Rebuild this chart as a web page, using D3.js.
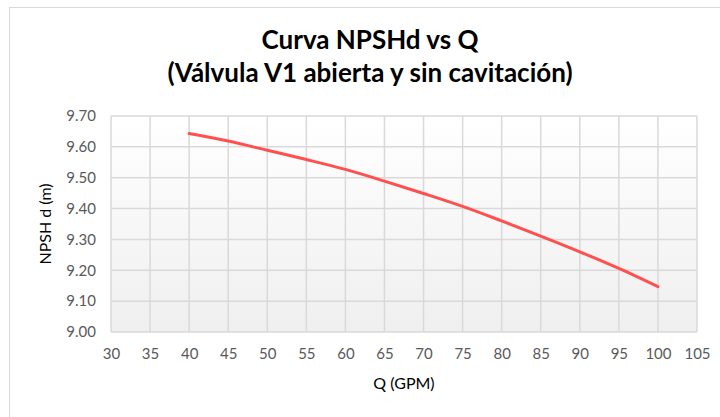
<!DOCTYPE html>
<html>
<head>
<meta charset="utf-8">
<script src="https://cdn.jsdelivr.net/npm/d3@7"></script>
<style>
  html, body { margin: 0; padding: 0; background: #fff; }
  svg { display: block; }
</style>
</head>
<body>
<svg id="chart" width="720" height="417"></svg>
<script>
// Flow rate (GPM) and available NPSH (m)
const flowQ = [40, 45, 50, 55, 60, 65, 70, 75, 80, 85, 90, 95, 100];
const npshd = [9.643, 9.619, 9.589, 9.559, 9.527, 9.489, 9.449, 9.407, 9.360, 9.311, 9.260, 9.206, 9.147];
const xTicks = [30, 35, 40, 45, 50, 55, 60, 65, 70, 75, 80, 85, 90, 95, 100, 105];
const yTicks = [9.0, 9.1, 9.2, 9.3, 9.4, 9.5, 9.6, 9.7];
const titleLines = ["Curva NPSHd vs Q", "(Válvula V1 abierta y sin cavitación)"];

const svg = d3.select("#chart");
const font = "Lato, 'Open Sans', sans-serif";

// chart frame
svg.append("rect")
  .attr("x", 9.5).attr("y", 7.5).attr("width", 730).attr("height", 420)
  .attr("fill", "#fff").attr("stroke", "#d9d9d9").attr("stroke-width", 1);

const plot = { left: 111, right: 697, top: 116, bottom: 332 };

const x = d3.scaleLinear().domain([30, 105]).range([plot.left, plot.right]);
const y = d3.scaleLinear().domain([9.0, 9.7]).range([plot.bottom, plot.top]);

// plot area background gradient
const defs = svg.append("defs");
const grad = defs.append("linearGradient").attr("id", "bg").attr("x1", 0).attr("y1", 0).attr("x2", 0).attr("y2", 1);
grad.append("stop").attr("offset", "0%").attr("stop-color", "#ffffff");
grad.append("stop").attr("offset", "100%").attr("stop-color", "#efefef");

svg.append("rect")
  .attr("x", plot.left).attr("y", plot.top)
  .attr("width", plot.right - plot.left).attr("height", plot.bottom - plot.top)
  .attr("fill", "url(#bg)");

// gridlines
const grid = svg.append("g").attr("stroke", "#d9d9d9").attr("stroke-width", 1.5);
grid.selectAll("line.v").data(xTicks).join("line")
  .attr("x1", d => x(d)).attr("x2", d => x(d))
  .attr("y1", plot.top).attr("y2", plot.bottom);
grid.selectAll("line.h").data(yTicks).join("line")
  .attr("x1", plot.left).attr("x2", plot.right)
  .attr("y1", d => y(d)).attr("y2", d => y(d));

// axes (labels only)
const xAxis = svg.append("g")
  .attr("transform", `translate(0,${plot.bottom})`)
  .call(d3.axisBottom(x).tickValues(xTicks).tickSize(0).tickPadding(16).tickFormat(d3.format("d")));
xAxis.select(".domain").remove();
xAxis.selectAll("text").attr("fill", "#595959").style("font-family", font).style("font-size", "15px");

const yAxis = svg.append("g")
  .attr("transform", `translate(${plot.left},0)`)
  .call(d3.axisLeft(y).tickValues(yTicks).tickSize(0).tickPadding(15).tickFormat(d3.format(".2f")));
yAxis.select(".domain").remove();
yAxis.selectAll("text").attr("fill", "#595959").style("font-family", font).style("font-size", "15px");

// curve
const line = d3.line()
  .x((d, i) => x(flowQ[i]))
  .y(d => y(d))
  .curve(d3.curveMonotoneX);

svg.append("path")
  .datum(npshd)
  .attr("d", line)
  .attr("fill", "none")
  .attr("stroke", "#ff4f4f")
  .attr("stroke-width", 3)
  .attr("stroke-linecap", "round");

// titles
svg.selectAll("text.title").data(titleLines).join("text")
  .attr("class", "title")
  .attr("x", 370).attr("y", (d, i) => 49 + i * 33)
  .attr("text-anchor", "middle")
  .attr("fill", "#000")
  .style("font-family", font).style("font-weight", "bold").style("font-size", "26px")
  .text(d => d);

svg.append("text")
  .attr("x", 404).attr("y", 389)
  .attr("text-anchor", "middle")
  .attr("fill", "#000")
  .style("font-family", font).style("font-size", "16px")
  .text("Q (GPM)");

svg.append("text")
  .attr("transform", `translate(51,224) rotate(-90)`)
  .attr("text-anchor", "middle")
  .attr("fill", "#000")
  .style("font-family", font).style("font-size", "16px")
  .text("NPSH d (m)");
</script>
</body>
</html>
